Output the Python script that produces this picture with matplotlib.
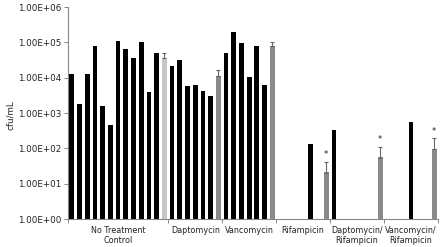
import matplotlib
matplotlib.use("Agg")
import matplotlib.pyplot as plt
import numpy as np

# ---- data ----
group_labels = ["No Treatment\nControl", "Daptomycin", "Vancomycin",
                "Rifampicin", "Daptomycin/\nRifampicin", "Vancomycin/\nRifampicin"]
# individual isolates (None = no growth / below detection)
nt_values = [13000, 1780, 13000, 77000, 1550, 470, 110000, 66000, 35000, 100000, 3900, 50000]
dapto_values = [22000, 31000, 5900, 6200, 4300, 3000]
vanco_values = [49000, 200000, 98000, 10500, 78000, 6300]
rif_values = [None, None, None, None, 130, None]
dr_values = [325, None, None, None, None, None]
vr_values = [None, None, None, 550, None, None]
# group means (grey bars) and upper error
mean_values = [35000, 11000, 78000, 20, 55, 96]
mean_errors = [15000, 5000, 22000, 21, 55, 94]
significant = [False, False, False, True, True, True]
yticks = [1, 10, 100, 1000, 10000, 100000, 1000000]
ytick_labels = ["1.00E+00", "1.00E+01", "1.00E+02", "1.00E+03",
                "1.00E+04", "1.00E+05", "1.00E+06"]

groups = [nt_values, dapto_values, vanco_values, rif_values, dr_values, vr_values]
mean_colors = ["#c6c6c6", "#8a8a8a", "#8a8a8a", "#8a8a8a", "#8a8a8a", "#8a8a8a"]

W, H = 440, 247
fig = plt.figure(figsize=(W / 100, H / 100), dpi=100)
ax = fig.add_axes([68 / W, 1 - 219 / H, (438 - 68) / W, (219 - 7) / H])

bw = 0.62
pos = 0
bounds = [0]
centers = []
for gi, vals in enumerate(groups):
    start = pos
    xs = [pos + i + 0.5 for i, v in enumerate(vals) if v is not None]
    ys = [v for v in vals if v is not None]
    ax.bar(xs, ys, width=bw, color="black", bottom=1)
    pos += len(vals)
    mx = pos + 0.5
    ax.bar([mx], [mean_values[gi]], width=bw, color=mean_colors[gi], bottom=1)
    ax.errorbar([mx], [mean_values[gi]], yerr=[[0], [mean_errors[gi]]],
                fmt="none", ecolor="#666666", elinewidth=0.8, capsize=1.5, capthick=0.8)
    if significant[gi]:
        ax.text(mx, (mean_values[gi] + mean_errors[gi]) * 1.2, "*",
                ha="center", va="bottom", fontsize=6, color="#222222")
    pos += 1
    bounds.append(pos)
    centers.append((start + pos) / 2)

ax.set_yscale("log")
ax.set_ylim(1, 1e6)
ax.set_xlim(0, pos)
ax.set_yticks(yticks)
ax.set_yticklabels(ytick_labels)
ax.yaxis.set_minor_locator(matplotlib.ticker.NullLocator())
ax.set_xticks(bounds)
ax.set_xticklabels([""] * len(bounds))
ax.set_xticks(centers, minor=True)
ax.set_xticklabels(group_labels, minor=True, fontsize=5.8, color="#222222",
                   linespacing=1.2)
ax.tick_params(axis="x", which="minor", length=0, pad=5)
ax.tick_params(axis="x", which="major", length=3, width=0.7, color="#888888")
ax.tick_params(axis="y", which="major", length=3, width=0.7, color="#888888",
               labelsize=6.3, labelcolor="#222222", pad=1.5)
for s in ["top", "right"]:
    ax.spines[s].set_visible(False)
for s in ["left", "bottom"]:
    ax.spines[s].set_color("#888888")
    ax.spines[s].set_linewidth(0.8)

fig.text(10 / W, 1 - 115 / H, "cfu/mL", rotation=90, ha="center", va="center",
         fontsize=6.3, color="#222222")

fig.savefig("out.png", dpi=100)
